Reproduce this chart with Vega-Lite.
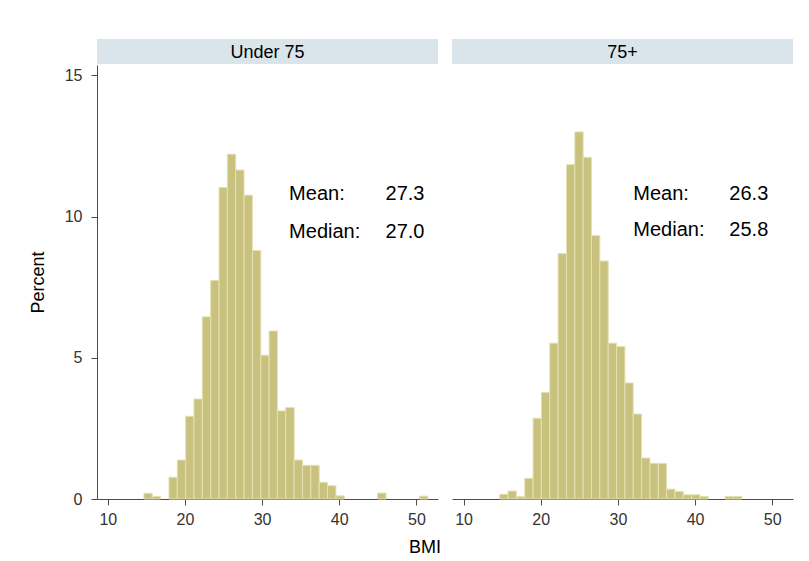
{
  "$schema": "https://vega.github.io/schema/vega-lite/v6.json",
  "autosize": {"type": "none"},
  "padding": {"left": 97, "top": 39, "right": 712, "bottom": 522},
  "background": "white",
  "datasets": {
    "bins": [
      {"group": "Under 75", "lo": 14.68, "hi": 15.76, "pct": 0.20},
      {"group": "Under 75", "lo": 15.76, "hi": 16.84, "pct": 0.09},
      {"group": "Under 75", "lo": 17.93, "hi": 19.01, "pct": 0.77},
      {"group": "Under 75", "lo": 19.01, "hi": 20.09, "pct": 1.38},
      {"group": "Under 75", "lo": 20.09, "hi": 21.17, "pct": 2.93},
      {"group": "Under 75", "lo": 21.17, "hi": 22.25, "pct": 3.54},
      {"group": "Under 75", "lo": 22.25, "hi": 23.34, "pct": 6.45},
      {"group": "Under 75", "lo": 23.34, "hi": 24.42, "pct": 7.74},
      {"group": "Under 75", "lo": 24.42, "hi": 25.50, "pct": 11.03},
      {"group": "Under 75", "lo": 25.50, "hi": 26.58, "pct": 12.21},
      {"group": "Under 75", "lo": 26.58, "hi": 27.66, "pct": 11.65},
      {"group": "Under 75", "lo": 27.66, "hi": 28.75, "pct": 10.76},
      {"group": "Under 75", "lo": 28.75, "hi": 29.83, "pct": 8.80},
      {"group": "Under 75", "lo": 29.83, "hi": 30.91, "pct": 5.09},
      {"group": "Under 75", "lo": 30.91, "hi": 31.99, "pct": 5.95},
      {"group": "Under 75", "lo": 31.99, "hi": 33.07, "pct": 3.12},
      {"group": "Under 75", "lo": 33.07, "hi": 34.16, "pct": 3.24},
      {"group": "Under 75", "lo": 34.16, "hi": 35.24, "pct": 1.38},
      {"group": "Under 75", "lo": 35.24, "hi": 36.32, "pct": 1.19},
      {"group": "Under 75", "lo": 36.32, "hi": 37.40, "pct": 1.19},
      {"group": "Under 75", "lo": 37.40, "hi": 38.48, "pct": 0.59},
      {"group": "Under 75", "lo": 38.48, "hi": 39.57, "pct": 0.47},
      {"group": "Under 75", "lo": 39.57, "hi": 40.65, "pct": 0.11},
      {"group": "Under 75", "lo": 44.98, "hi": 46.06, "pct": 0.21},
      {"group": "Under 75", "lo": 50.39, "hi": 51.47, "pct": 0.10},
      {"group": "75+", "lo": 14.68, "hi": 15.76, "pct": 0.17},
      {"group": "75+", "lo": 15.76, "hi": 16.84, "pct": 0.28},
      {"group": "75+", "lo": 16.84, "hi": 17.93, "pct": 0.08},
      {"group": "75+", "lo": 17.93, "hi": 19.01, "pct": 0.73},
      {"group": "75+", "lo": 19.01, "hi": 20.09, "pct": 2.86},
      {"group": "75+", "lo": 20.09, "hi": 21.17, "pct": 3.77},
      {"group": "75+", "lo": 21.17, "hi": 22.25, "pct": 5.52},
      {"group": "75+", "lo": 22.25, "hi": 23.34, "pct": 8.69},
      {"group": "75+", "lo": 23.34, "hi": 24.42, "pct": 11.84},
      {"group": "75+", "lo": 24.42, "hi": 25.50, "pct": 13.00},
      {"group": "75+", "lo": 25.50, "hi": 26.58, "pct": 12.10},
      {"group": "75+", "lo": 26.58, "hi": 27.66, "pct": 9.33},
      {"group": "75+", "lo": 27.66, "hi": 28.75, "pct": 8.43},
      {"group": "75+", "lo": 28.75, "hi": 29.83, "pct": 5.52},
      {"group": "75+", "lo": 29.83, "hi": 30.91, "pct": 5.40},
      {"group": "75+", "lo": 30.91, "hi": 31.99, "pct": 4.11},
      {"group": "75+", "lo": 31.99, "hi": 33.07, "pct": 3.01},
      {"group": "75+", "lo": 33.07, "hi": 34.16, "pct": 1.45},
      {"group": "75+", "lo": 34.16, "hi": 35.24, "pct": 1.26},
      {"group": "75+", "lo": 35.24, "hi": 36.32, "pct": 1.26},
      {"group": "75+", "lo": 36.32, "hi": 37.40, "pct": 0.35},
      {"group": "75+", "lo": 37.40, "hi": 38.48, "pct": 0.27},
      {"group": "75+", "lo": 38.48, "hi": 39.57, "pct": 0.15},
      {"group": "75+", "lo": 39.57, "hi": 40.65, "pct": 0.15},
      {"group": "75+", "lo": 40.65, "hi": 41.73, "pct": 0.09},
      {"group": "75+", "lo": 43.89, "hi": 44.98, "pct": 0.09},
      {"group": "75+", "lo": 44.98, "hi": 46.06, "pct": 0.09}
    ],
    "stats": [
      {"group": "Under 75", "stat": "Mean:", "value": 27.3},
      {"group": "Under 75", "stat": "Median:", "value": 27.0},
      {"group": "75+", "stat": "Mean:", "value": 26.3},
      {"group": "75+", "stat": "Median:", "value": 25.8}
    ],
    "panels": [{"group": "Under 75"}, {"group": "75+"}]
  },
  "title": {"text": "BMI", "orient": "bottom", "anchor": "middle", "fontSize": 18, "fontWeight": "normal", "color": "#000", "font": "Liberation Sans", "offset": 12, "dx": 14},
  "spacing": 14,
  "hconcat": [
    {
      "spacing": 1,
      "vconcat": [
        {
          "width": 341, "height": 25,
          "view": {"fill": "#d9e5eb", "stroke": null},
          "data": {"name": "panels"},
          "transform": [{"filter": "datum.group === 'Under 75'"}],
          "mark": {"type": "text", "fontSize": 18, "font": "Liberation Sans", "fontWeight": 500, "color": "#000", "baseline": "middle", "align": "center", "dy": 1},
          "encoding": {"text": {"field": "group"}}
        },
        {
          "width": 341, "height": 434,
          "layer": [
            {
              "data": {"name": "bins"},
              "transform": [{"filter": "datum.group === 'Under 75'"}],
              "mark": {"type": "bar", "orient": "vertical", "fill": "#c9c27f", "stroke": "#e4e0b3", "strokeWidth": 1},
              "encoding": {
                "x": {"field": "lo", "type": "quantitative", "scale": {"domain": [8.6, 52.8], "nice": false, "zero": false, "padding": 0}, "axis": {"values": [10, 20, 30, 40, 50], "title": null}},
                "x2": {"field": "hi"},
                "y": {"field": "pct", "type": "quantitative", "stack": null, "scale": {"domain": [0, 15.37], "nice": false, "padding": 0}, "axis": {"values": [0, 5, 10, 15], "title": "Percent", "labelPadding": 9, "titlePadding": 17}},
                "y2": {"datum": 0}
              }
            },
            {
              "data": {"name": "stats"},
              "transform": [{"filter": "datum.group === 'Under 75' && datum.stat === 'Mean:'"}],
              "mark": {"type": "text", "align": "left", "baseline": "alphabetic", "fontSize": 20, "color": "#000"},
              "encoding": {"x": {"datum": 33.5}, "y": {"datum": 10.6}, "text": {"field": "stat"}}
            },
            {
              "data": {"name": "stats"},
              "transform": [{"filter": "datum.group === 'Under 75' && datum.stat === 'Mean:'"}],
              "mark": {"type": "text", "align": "left", "baseline": "alphabetic", "fontSize": 20, "color": "#000"},
              "encoding": {"x": {"datum": 46.0}, "y": {"datum": 10.6}, "text": {"field": "value", "format": ".1f"}}
            },
            {
              "data": {"name": "stats"},
              "transform": [{"filter": "datum.group === 'Under 75' && datum.stat === 'Median:'"}],
              "mark": {"type": "text", "align": "left", "baseline": "alphabetic", "fontSize": 20, "color": "#000"},
              "encoding": {"x": {"datum": 33.5}, "y": {"datum": 9.25}, "text": {"field": "stat"}}
            },
            {
              "data": {"name": "stats"},
              "transform": [{"filter": "datum.group === 'Under 75' && datum.stat === 'Median:'"}],
              "mark": {"type": "text", "align": "left", "baseline": "alphabetic", "fontSize": 20, "color": "#000"},
              "encoding": {"x": {"datum": 46.0}, "y": {"datum": 9.25}, "text": {"field": "value", "format": ".1f"}}
            }
          ]
        }
      ]
    },
    {
      "spacing": 1,
      "vconcat": [
        {
          "width": 341, "height": 25,
          "view": {"fill": "#d9e5eb", "stroke": null},
          "data": {"name": "panels"},
          "transform": [{"filter": "datum.group === '75+'"}],
          "mark": {"type": "text", "fontSize": 18, "font": "Liberation Sans", "fontWeight": 500, "color": "#000", "baseline": "middle", "align": "center", "dy": 1},
          "encoding": {"text": {"field": "group"}}
        },
        {
          "width": 341, "height": 434,
          "layer": [
            {
              "data": {"name": "bins"},
              "transform": [{"filter": "datum.group === '75+'"}],
              "mark": {"type": "bar", "orient": "vertical", "fill": "#c9c27f", "stroke": "#e4e0b3", "strokeWidth": 1},
              "encoding": {
                "x": {"field": "lo", "type": "quantitative", "scale": {"domain": [8.5, 52.7], "nice": false, "zero": false, "padding": 0}, "axis": {"values": [10, 20, 30, 40, 50], "title": null}},
                "x2": {"field": "hi"},
                "y": {"field": "pct", "type": "quantitative", "stack": null, "scale": {"domain": [0, 15.37], "nice": false, "padding": 0}, "axis": null},
                "y2": {"datum": 0}
              }
            },
            {
              "data": {"name": "stats"},
              "transform": [{"filter": "datum.group === '75+' && datum.stat === 'Mean:'"}],
              "mark": {"type": "text", "align": "left", "baseline": "alphabetic", "fontSize": 20, "color": "#000"},
              "encoding": {"x": {"datum": 32.0}, "y": {"datum": 10.6}, "text": {"field": "stat"}}
            },
            {
              "data": {"name": "stats"},
              "transform": [{"filter": "datum.group === '75+' && datum.stat === 'Mean:'"}],
              "mark": {"type": "text", "align": "left", "baseline": "alphabetic", "fontSize": 20, "color": "#000"},
              "encoding": {"x": {"datum": 44.45}, "y": {"datum": 10.6}, "text": {"field": "value", "format": ".1f"}}
            },
            {
              "data": {"name": "stats"},
              "transform": [{"filter": "datum.group === '75+' && datum.stat === 'Median:'"}],
              "mark": {"type": "text", "align": "left", "baseline": "alphabetic", "fontSize": 20, "color": "#000"},
              "encoding": {"x": {"datum": 32.0}, "y": {"datum": 9.3}, "text": {"field": "stat"}}
            },
            {
              "data": {"name": "stats"},
              "transform": [{"filter": "datum.group === '75+' && datum.stat === 'Median:'"}],
              "mark": {"type": "text", "align": "left", "baseline": "alphabetic", "fontSize": 20, "color": "#000"},
              "encoding": {"x": {"datum": 44.45}, "y": {"datum": 9.3}, "text": {"field": "value", "format": ".1f"}}
            }
          ]
        }
      ]
    }
  ],
  "config": {
    "font": "Liberation Sans",
    "view": {"stroke": null},
    "axis": {
      "grid": false,
      "domainColor": "#4d4d4d",
      "tickColor": "#4d4d4d",
      "tickSize": 6,
      "labelFontSize": 16,
      "labelColor": "#333333",
      "labelFont": "Liberation Sans",
      "labelPadding": 6,
      "titleFont": "Liberation Sans",
      "titleFontSize": 18,
      "titleFontWeight": "normal",
      "titleColor": "#000000",
      "titlePadding": 16
    }
  }
}
